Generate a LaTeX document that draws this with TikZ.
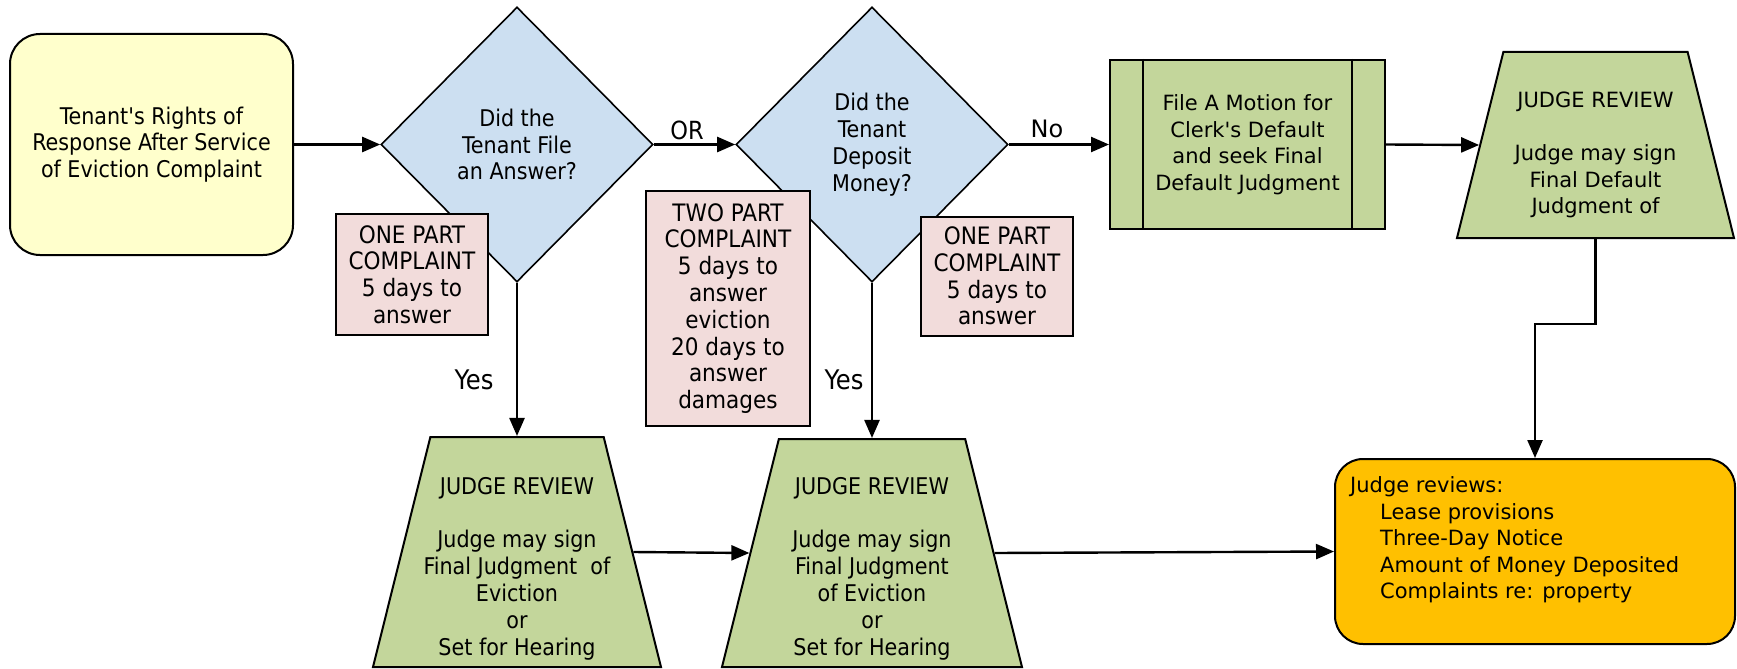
\documentclass[tikz,border=0pt]{standalone}
\usepackage{fontspec}
\setmainfont{DejaVu Sans Condensed}
\newfontfamily\widefam{DejaVu Sans}
\usepackage{tikz}
\usetikzlibrary{arrows.meta,shapes.geometric,calc}
\tikzset{>={Triangle[length=18pt,width=15pt]}}
\definecolor{startyellow}{HTML}{FFFFCC}
\definecolor{askblue}{HTML}{CCDFF1}
\definecolor{notepink}{HTML}{F2DCDB}
\definecolor{judgegreen}{HTML}{C3D69B}
\definecolor{endorange}{HTML}{FFC000}
\newcommand{\narrowtext}{\fontsize{23}{26.8}\selectfont}
\newcommand{\widetext}{\widefam\fontsize{21}{26.5}\selectfont}
\tikzstyle{start}=[
	 rectangle, rounded corners=30pt, draw, line width=2pt,
	 fill=startyellow, minimum width=283pt, minimum height=221pt,
	 align=center, font=\narrowtext
    ]
\tikzstyle{ask}=[
	 diamond, draw, line width=1.6pt, fill=askblue,
	 minimum width=272pt, minimum height=275pt, inner sep=0pt,
	 align=center, font=\narrowtext
    ]
\tikzstyle{note}=[
	 rectangle, draw, line width=2pt, fill=notepink,
	 minimum width=152pt, inner sep=0pt,
	 align=center, font=\fontsize{24}{26.8}\selectfont
    ]
\tikzstyle{judge}=[
	 trapezium, trapezium left angle=76, trapezium right angle=76,
	 trapezium stretches body, draw, line width=2pt,
	 fill=judgegreen, inner sep=0pt
    ]
\tikzstyle{motion}=[
	 rectangle, draw, line width=2pt, fill=judgegreen,
	 minimum width=275pt, minimum height=169pt,
	 align=center, font=\widetext
    ]
\tikzstyle{review}=[
	 rectangle, rounded corners=28pt, draw, line width=2pt,
	 fill=endorange, minimum width=400pt, minimum height=185pt
    ]
\tikzstyle{flow}=[->, line width=2.4pt]
\tikzstyle{tag}=[inner sep=0pt, font=\narrowtext]
\newcommand{\pBar}[1]{\draw[line width=2pt] ([xshift=34pt]#1.north west) -- ([xshift=34pt]#1.south west) ([xshift=-34pt]#1.north east) -- ([xshift=-34pt]#1.south east)}

\begin{document}
\begin{tikzpicture}[x=1pt,y=-1pt]
\useasboundingbox (0,0) rectangle (1737,669);

% top row
\node[start] (rights) at (151.5,144.5) {Tenant\textquotesingle s Rights of\\Response After Service\\of Eviction Complaint};
\node[ask] (answer) at (517,144.5) {Did the\\Tenant File\\an Answer?};
\node[ask] (deposit) at (872,144.5) {Did the\\Tenant\\Deposit\\Money?};
\node[motion] (motion) at (1247.5,144.5) {File A Motion for\\Clerk\textquotesingle s Default\\and seek Final\\Default Judgment};
\pBar{motion};
\node[judge, text height=93pt, text depth=93pt, minimum width=277pt] (defjudge) at (1595.5,145) {};
\node[inner sep=0pt, align=center, font=\widetext] at ([yshift=-10pt]defjudge.center) {JUDGE REVIEW\\[26.5pt]Judge may sign\\Final Default\\Judgment of};

% complaint notes
\node[note, minimum height=121pt] (onepartA) at (412,274.5) {ONE PART\\COMPLAINT\\5 days to\\answer};
\node[note, minimum width=164pt, minimum height=235pt] (twopart) at (728,308.5) {TWO PART\\COMPLAINT\\5 days to\\answer\\eviction\\20 days to\\answer\\damages};
\node[note, minimum height=119pt] (onepartB) at (997,276) {ONE PART\\COMPLAINT\\5 days to\\answer};

% bottom row
\node[judge, text height=115pt, text depth=115pt, minimum width=288pt] (evictA) at (517,552) {};
\node[inner sep=0pt, align=center, font=\narrowtext] at ([yshift=-16.5pt]evictA.center) {JUDGE REVIEW\\[26.8pt]Judge may sign\\Final Judgment\ \ of\\Eviction\\or\\Set for Hearing};
\node[judge, text height=114pt, text depth=114pt, minimum width=300pt] (evictB) at (872,553) {};
\node[inner sep=0pt, align=center, font=\narrowtext] at ([yshift=-15.5pt]evictB.center) {JUDGE REVIEW\\[26.8pt]Judge may sign\\Final Judgment\\of Eviction\\or\\Set for Hearing};
\node[review] (reviews) at (1535,551.5) {};
\node[anchor=west, inner sep=0pt, align=left, font=\widetext] at ([xshift=16pt,yshift=11.5pt]reviews.west) {Judge reviews:\\\hspace*{30pt}Lease provisions\\\hspace*{30pt}Three-Day Notice\\\hspace*{30pt}Amount of Money Deposited\\\hspace*{30pt}Complaints re: property};

% labels
\node[tag, font=\fontsize{25}{28}\selectfont] (orlabel) at (687,130) {OR};
\node[tag, font=\widefam\fontsize{24}{28}\selectfont] (nolabel) at (1047,129) {No};
\node[tag, font=\fontsize{27}{30}\selectfont] (yesA) at (474,380) {Yes};
\node[tag, font=\fontsize{27}{30}\selectfont] (yesB) at (844,380) {Yes};

% connectors
\draw[flow] (rights.east) -- (answer.west);
\draw[flow] (answer.east) -- (deposit.west);
\draw[flow] (deposit.east) -- (motion.west);
\draw[flow] (motion.east) -- (defjudge.west);
\draw[flow] (defjudge.south) -- ++(0,85) -| (reviews.north);
\draw[flow] (answer.south) -- (evictA.north);
\draw[flow] (deposit.south) -- (evictB.north);
\draw[flow] (evictA.east) -- (evictB.west);
\draw[flow] (evictB.east) -- (reviews.west);

\end{tikzpicture}
\end{document}
